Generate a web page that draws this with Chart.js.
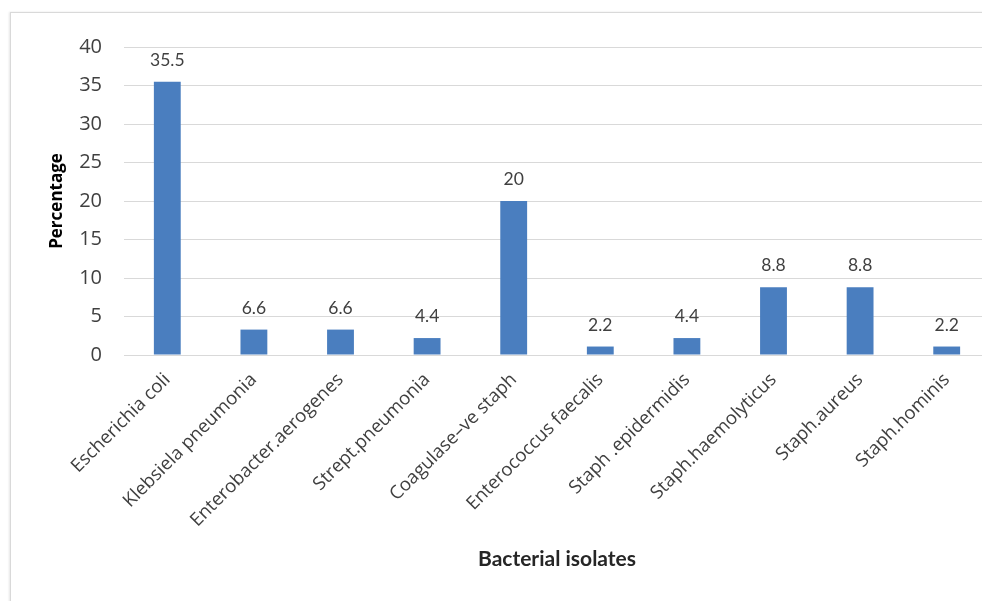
<!DOCTYPE html>
<html>
<head>
<meta charset="utf-8">
<script src="https://cdn.jsdelivr.net/npm/chart.js@4"></script>
<style>
  html, body { margin: 0; padding: 0; background: #fff; overflow: hidden; }
  #wrap { position: relative; width: 982px; height: 601px; overflow: hidden; }
  #frame { position: absolute; left: 10px; top: 12px; width: 990px; height: 620px;
           border: 1px solid #d9d9d9; box-shadow: -1px 0 2px #e6e6e6; }
  canvas { position: absolute; left: 0; top: 0; }
</style>
</head>
<body>
<div id="wrap">
  <div id="frame"></div>
  <canvas id="isolatesChart" width="1000" height="601"></canvas>
</div>
<script>
// data
const isolates = ['Escherichia coli', 'Klebsiela pneumonia', 'Enterobacter.aerogenes', 'Strept.pneumonia',
    'Coagulase\u2013ve staph', 'Enterococcus faecalis', 'Staph .epidermidis', 'Staph.haemolyticus',
    'Staph.aureus', 'Staph.hominis'];
// bar heights as drawn
const barHeights = [35.5, 3.3, 3.3, 2.2, 20, 1.1, 2.2, 8.8, 8.8, 1.1];
// numbers printed above the bars
const printedLabels = ['35.5', '6.6', '6.6', '4.4', '20', '2.2', '4.4', '8.8', '8.8', '2.2'];
const yTicks = [0, 5, 10, 15, 20, 25, 30, 35, 40];

const fontFamily = 'Lato, "Open Sans", sans-serif';
const openSans = '"Open Sans", sans-serif';

// draw the printed values over each bar
const valueLabels = {
    id: 'valueLabels',
    afterDatasetsDraw(chart) {
        const c = chart.ctx;
        const meta = chart.getDatasetMeta(0);
        c.save();
        c.font = '17.5px ' + fontFamily;
        c.fillStyle = '#404040';
        c.textAlign = 'center';
        c.textBaseline = 'alphabetic';
        meta.data.forEach((bar, i) => {
            c.fillText(printedLabels[i], bar.x, bar.y - 16);
        });
        c.restore();
    }
};

const ctx = document.getElementById('isolatesChart').getContext('2d');
new Chart(ctx, {
    type: 'bar',
    data: {
        labels: isolates,
        datasets: [{
            data: barHeights,
            backgroundColor: '#4a7ebf',
            categoryPercentage: 1,
            barPercentage: 0.31
        }]
    },
    options: {
        responsive: false,
        animation: false,
        layout: { padding: { left: 43, top: 47, right: 10, bottom: 25 } },
        plugins: {
            legend: { display: false },
            tooltip: { enabled: false }
        },
        scales: {
            x: {
                grid: { display: false, drawTicks: false },
                border: { color: '#d9d9d9' },
                ticks: {
                    minRotation: 45, maxRotation: 45, padding: 14,
                    color: '#404040', font: { size: 18.5, family: openSans }
                },
                title: {
                    display: true, text: 'Bacterial isolates', color: '#262626',
                    font: { size: 21, weight: 'bold', family: fontFamily }
                },
                afterFit(scale) { scale.height = 576 - 355; }
            },
            y: {
                min: 0, max: 40,
                afterBuildTicks(scale) { scale.ticks = yTicks.map(v => ({ value: v })); },
                grid: { color: '#d9d9d9', drawTicks: false },
                border: { display: false },
                ticks: {
                    padding: 22, color: '#404040',
                    font: { size: 20, family: openSans }
                },
                title: {
                    display: true, text: 'Percentage', color: '#000',
                    font: { size: 17, weight: 'bold', family: openSans }
                },
                afterFit(scale) { scale.width = 124 - 43; }
            }
        }
    },
    plugins: [valueLabels]
});
</script>
</body>
</html>
